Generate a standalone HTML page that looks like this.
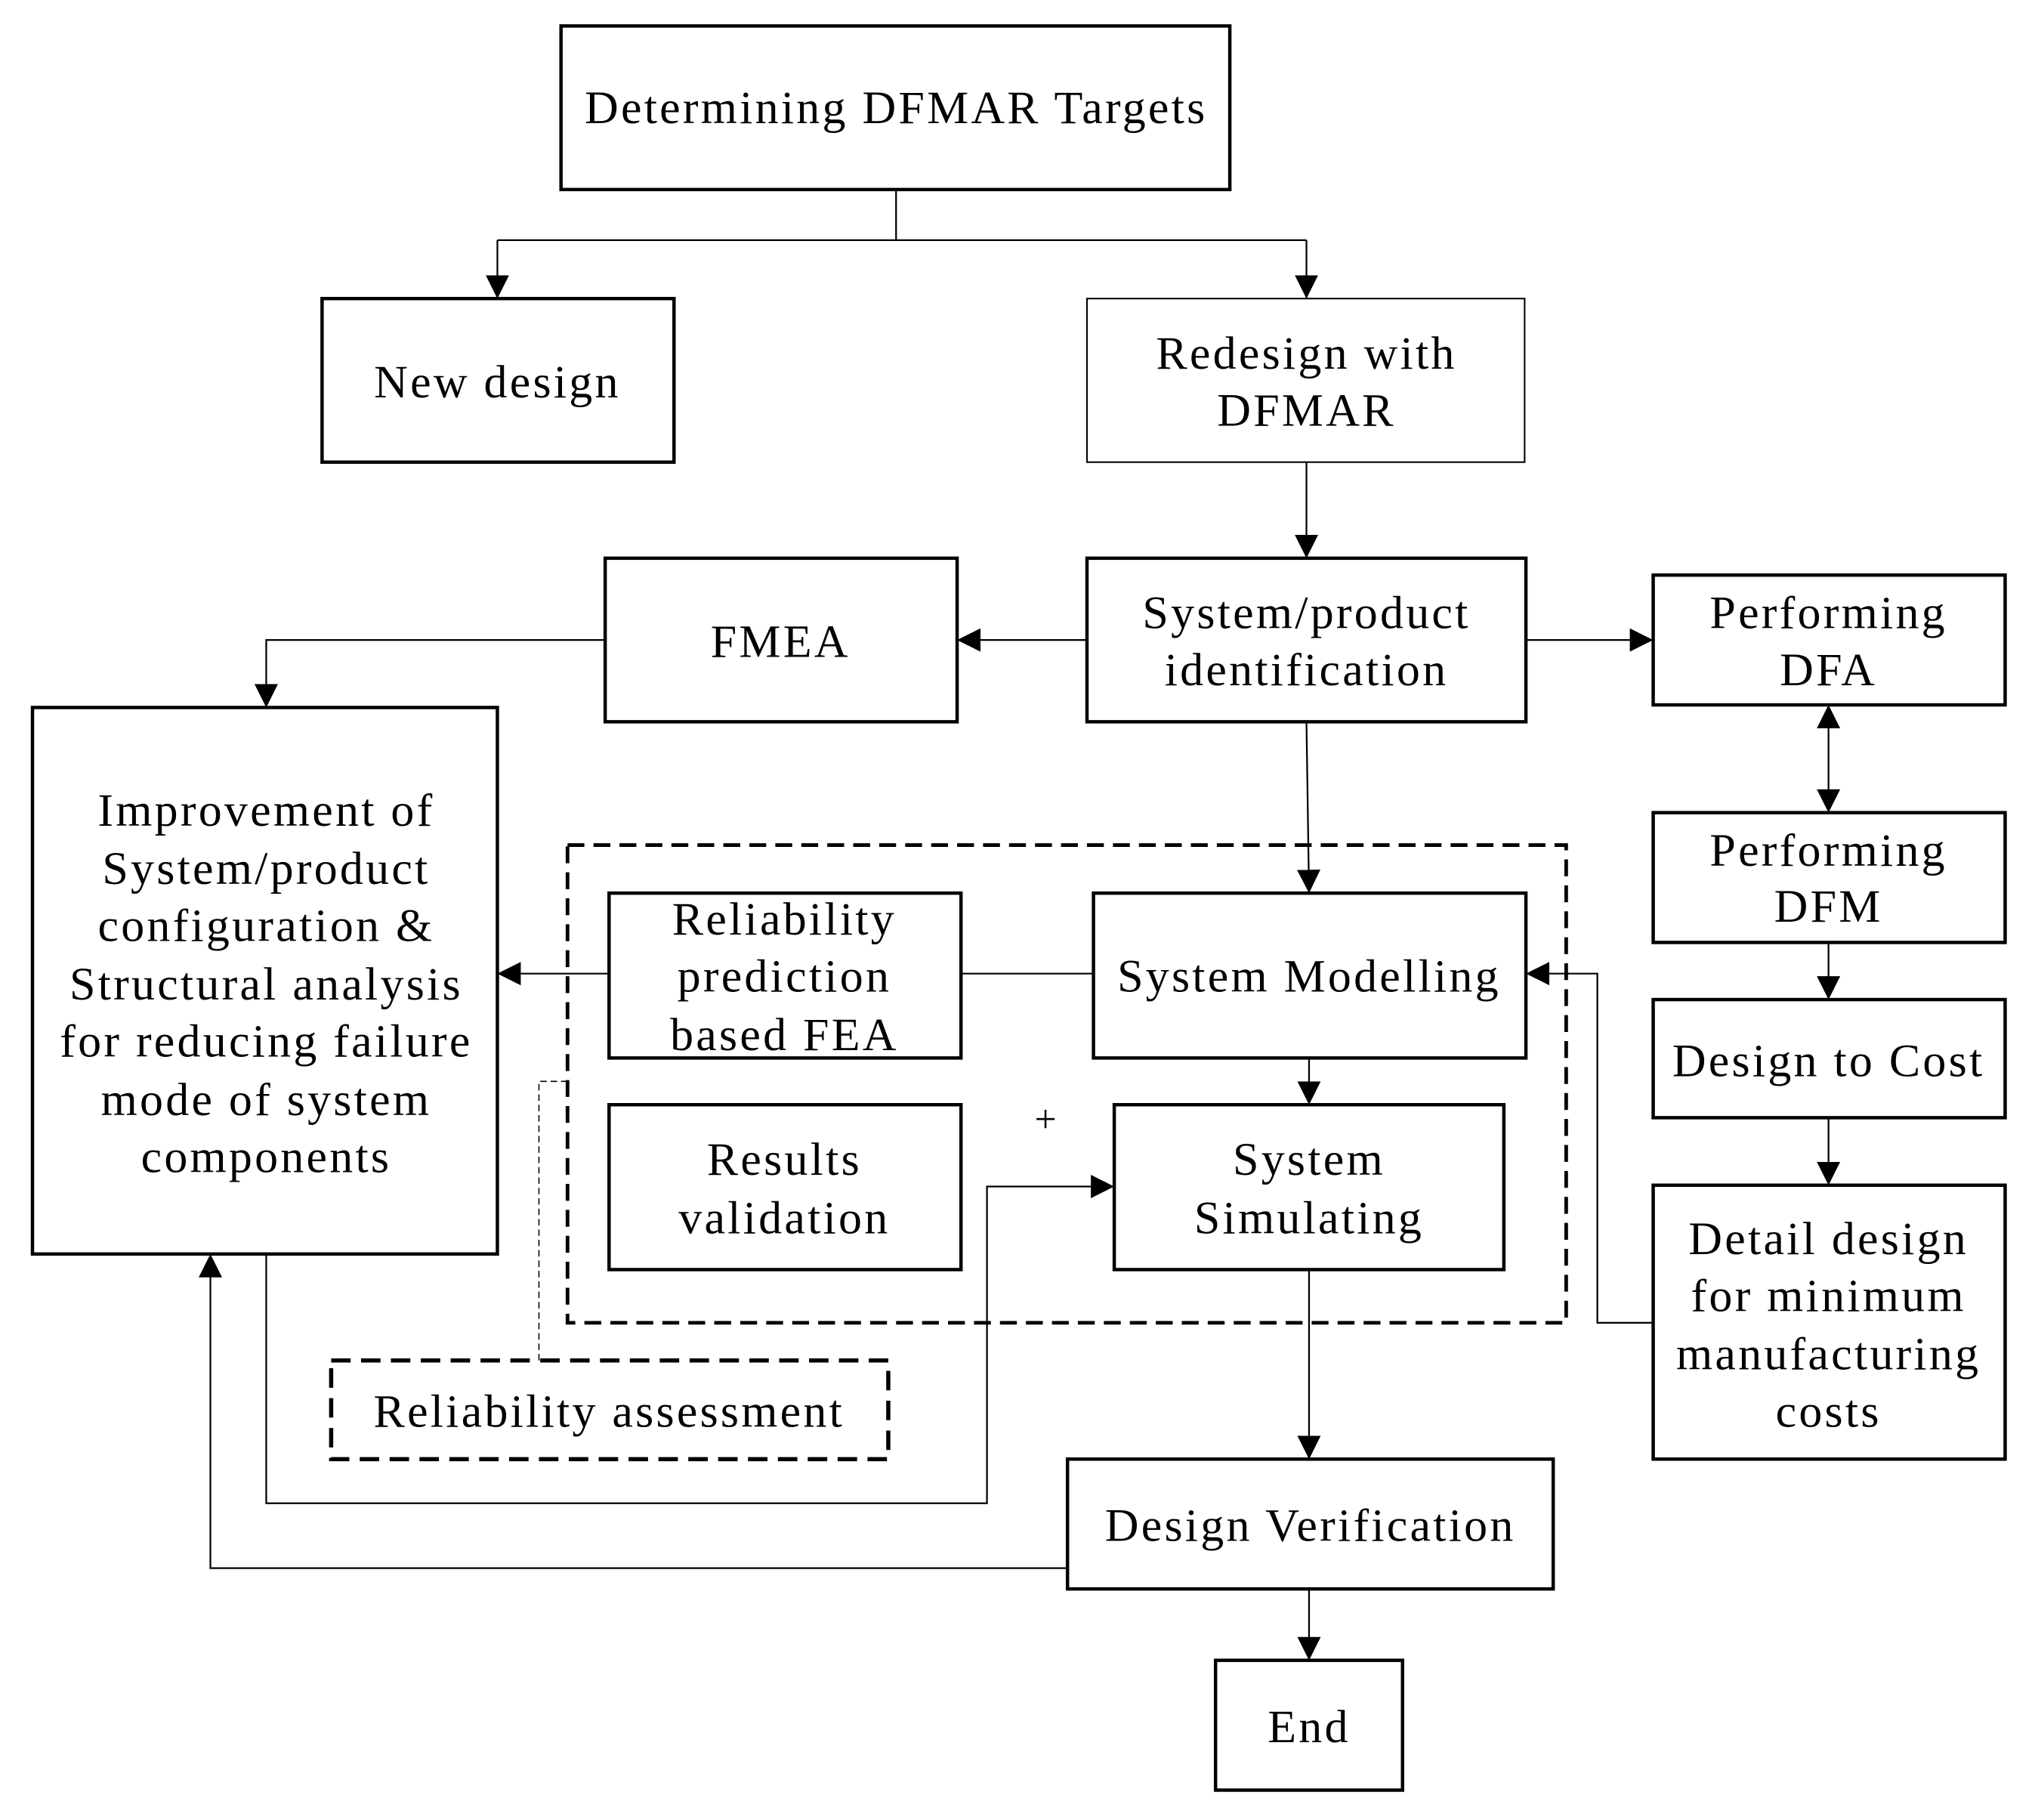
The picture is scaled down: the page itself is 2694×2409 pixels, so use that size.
<!DOCTYPE html>
<html><head><meta charset="utf-8"><style>
html,body{margin:0;padding:0;background:#fff;}
svg{display:block;}
text{font-family:"Liberation Serif",serif;font-size:36px;letter-spacing:1.9px;fill:#000;text-anchor:middle;}
</style></head><body>
<svg width="2694" height="2409" viewBox="0 0 1567 1402" preserveAspectRatio="none" xmlns="http://www.w3.org/2000/svg">
<defs>
<marker id="a" viewBox="0 0 10 10" refX="10" refY="5" markerWidth="18" markerHeight="18" markerUnits="userSpaceOnUse" orient="auto"><path d="M0,0 L10,5 L0,10 z" fill="#000"/></marker>
<marker id="b" viewBox="0 0 10 10" refX="0" refY="5" markerWidth="18" markerHeight="18" markerUnits="userSpaceOnUse" orient="auto"><path d="M10,0 L0,5 L10,10 z" fill="#000"/></marker>
</defs>
<g fill="none" stroke="#000" stroke-width="2.6">
<rect x="432" y="20" width="515" height="126"/>
<rect x="248" y="230" width="271" height="126"/>
<rect x="837" y="230" width="337" height="126" stroke-width="1.2"/>
<rect x="837" y="430" width="338" height="126"/>
<rect x="466" y="430" width="271" height="126"/>
<rect x="1273" y="443" width="271" height="100"/>
<rect x="1273" y="626" width="271" height="100"/>
<rect x="1273" y="770" width="271" height="91"/>
<rect x="1273" y="913" width="271" height="211"/>
<rect x="25" y="545" width="358" height="421"/>
<rect x="437" y="651" width="769" height="368" stroke-width="2.8" stroke-dasharray="13,7"/>
<rect x="469" y="688" width="271" height="127"/>
<rect x="842" y="688" width="333" height="127"/>
<rect x="469" y="851" width="271" height="127"/>
<rect x="858" y="851" width="300" height="127"/>
<rect x="255" y="1048" width="429" height="76" stroke-width="3.2" stroke-dasharray="15,8"/>
<rect x="822" y="1124" width="374" height="100"/>
<rect x="936" y="1279" width="144" height="100"/>
</g>
<g fill="none" stroke="#000" stroke-width="1.3">
<path d="M690,146 V185 M383,185 H1006"/>
<path d="M383,185 V230" marker-end="url(#a)"/>
<path d="M1006,185 V230" marker-end="url(#a)"/>
<path d="M1006,356 V430" marker-end="url(#a)"/>
<path d="M837,493 H737" marker-end="url(#a)"/>
<path d="M466,493 H205 V545" marker-end="url(#a)"/>
<path d="M1175,493 H1273" marker-end="url(#a)"/>
<path d="M1408,543 V626" marker-start="url(#b)" marker-end="url(#a)"/>
<path d="M1408,726 V770" marker-end="url(#a)"/>
<path d="M1408,861 V913" marker-end="url(#a)"/>
<path d="M1273,1019 H1230 V750 H1175" marker-end="url(#a)"/>
<path d="M740,750 H842"/>
<path d="M469,750 H383" marker-end="url(#a)"/>
<path d="M1006,556 L1008,688" marker-end="url(#a)"/>
<path d="M1008,815 V851" marker-end="url(#a)"/>
<path d="M205,966 V1158 H760 V914 H858" marker-end="url(#a)"/>
<path d="M1008,978 V1124" marker-end="url(#a)"/>
<path d="M822,1208 H162 V966" marker-end="url(#a)"/>
<path d="M1008,1224 V1279" marker-end="url(#a)"/>
<path d="M415,1048 V833 H437" stroke-width="0.9" stroke-dasharray="5,3"/>
</g>
<text x="690" y="95">Determining DFMAR Targets</text>
<text x="383" y="306">New design</text>
<text x="1006" y="284">Redesign with</text>
<text x="1006" y="328">DFMAR</text>
<text x="601" y="506">FMEA</text>
<text x="1006" y="484">System/product</text>
<text x="1006" y="528">identification</text>
<text x="1408" y="484">Performing</text>
<text x="1408" y="528">DFA</text>
<text x="1408" y="667">Performing</text>
<text x="1408" y="710">DFM</text>
<text x="1408" y="829">Design to Cost</text>
<text x="1408" y="966">Detail design</text>
<text x="1408" y="1010">for minimum</text>
<text x="1408" y="1055">manufacturing</text>
<text x="1408" y="1099">costs</text>
<text x="205" y="636">Improvement of</text>
<text x="205" y="681">System/product</text>
<text x="205" y="725">configuration &amp;</text>
<text x="205" y="770">Structural analysis</text>
<text x="205" y="814">for reducing failure</text>
<text x="205" y="859">mode of system</text>
<text x="205" y="903">components</text>
<text x="604" y="720">Reliability</text>
<text x="604" y="764">prediction</text>
<text x="604" y="809">based FEA</text>
<text x="1008" y="764">System Modelling</text>
<text x="604" y="905">Results</text>
<text x="604" y="950">validation</text>
<text x="1008" y="905">System</text>
<text x="1008" y="950">Simulating</text>
<text x="806" y="872" style="font-size:30px">+</text>
<text x="469" y="1099">Reliability assessment</text>
<text x="1009" y="1187">Design Verification</text>
<text x="1008" y="1342">End</text>
</svg>
</body></html>
